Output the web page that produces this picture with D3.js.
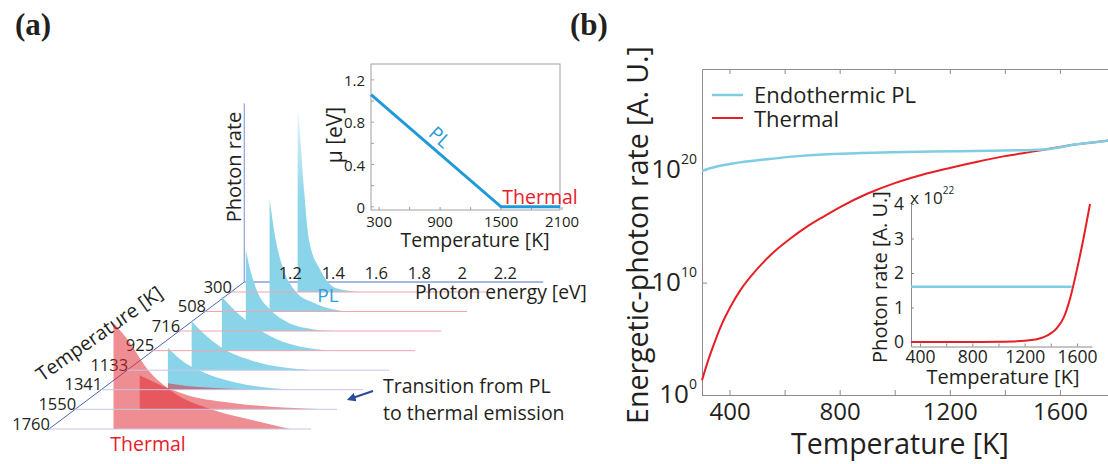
<!DOCTYPE html>
<html>
<head>
<meta charset="utf-8">
<script src="https://cdn.jsdelivr.net/npm/d3@7"></script>
<style>
  body { margin: 0; background: #fff; }
  svg { display: block; font-family: 'Open Sans', sans-serif; }
  text { fill: #231f20; }
</style>
</head>
<body>
<svg id="fig" width="1108" height="464"></svg>
<script>
// ---------- panel (a): spectra vs temperature ----------
const rowTemps = [300, 508, 716, 925, 1133, 1341, 1550, 1760]
const energyTicks = [1.2, 1.4, 1.6, 1.8, 2, 2.2]

// [photon energy (eV), photon rate (normalised)]
const pl300 = [[1.31, 1.00], [1.318, 0.90], [1.34, 0.55], [1.363, 0.28], [1.415, 0.12], [1.49, 0.02], [1.60, 0.0]]
const pl508 = [[1.30, 0.61], [1.33, 0.38], [1.367, 0.22], [1.42, 0.11], [1.50, 0.05], [1.65, 0.0]]
const pl716 = [[1.31, 0.44], [1.333, 0.32], [1.365, 0.21], [1.42, 0.12], [1.50, 0.05], [1.62, 0.01], [1.72, 0.0]]
const pl925 = [[1.32, 0.29], [1.34, 0.265], [1.40, 0.195], [1.48, 0.125], [1.60, 0.05], [1.83, 0.0]]
const pl1133 = [[1.30, 0.265], [1.345, 0.21], [1.435, 0.125], [1.585, 0.05], [1.86, 0.0]]
const pl1341 = [[1.31, 0.227], [1.37, 0.162], [1.48, 0.092], [1.63, 0.038], [1.89, 0.0]]
const th1341 = [[1.31, 0.035], [1.40, 0.02], [1.55, 0.008], [1.75, 0.0]]
const th1550 = [[1.30, 0.184], [1.368, 0.146], [1.523, 0.076], [1.75, 0.032], [2.15, 0.0]]
const th1760 = [[1.30, 0.573], [1.368, 0.48], [1.46, 0.32], [1.564, 0.21], [1.764, 0.103], [1.945, 0.049], [2.12, 0.0]]

const plByRow = { 300: pl300, 508: pl508, 716: pl716, 925: pl925, 1133: pl1133, 1341: pl1341 }
const thByRow = { 1341: th1341, 1550: th1550, 1760: th1760 }

// inset of (a): chemical potential
const muTemps = [220, 1500, 2080]
const muValues = [1.06, 0, 0]
const muXTicks = [300, 900, 1500, 2100]
const muYTicks = [0, 0.4, 0.8, 1.2]

// ---------- panel (b) ----------
const plT = [300, 350, 413, 535, 650, 777, 950, 1139, 1350, 1502, 1552, 1661, 1770, 1800]
const plExp = [19.95, 20.3, 20.6, 20.97, 21.25, 21.44, 21.57, 21.65, 21.73, 21.8, 21.86, 22.3, 22.62, 22.7]
const thT = [300, 320, 340, 370, 400, 440, 500, 560, 620, 680, 740, 800, 900, 1000, 1100, 1200, 1300, 1400, 1500, 1552, 1661, 1770, 1800]
const thExp = [1.3, 2.9, 4.3, 6.2, 7.7, 9.35, 11.2, 12.7, 13.9, 14.95, 15.85, 16.7, 17.9, 18.85, 19.6, 20.2, 20.75, 21.25, 21.65, 21.86, 22.3, 22.62, 22.7]
const bXTicks = [400, 800, 1200, 1600]
const bYExps = [0, 10, 20]

// inset of (b): linear photon rate (x 10^22)
const insT = [331, 600, 800, 1000, 1100, 1200, 1250, 1300, 1350, 1400, 1450, 1500, 1550, 1600, 1650, 1700]
const insThermal = [0, 0, 0, 0.005, 0.015, 0.035, 0.06, 0.09, 0.15, 0.25, 0.42, 0.72, 1.3, 2.1, 3.0, 4.0]
const insPlT = [331, 1560]
const insPl = [1.6, 1.6]
const insXTicks = [400, 800, 1200, 1600]
const insYTicks = [0, 1, 2, 3, 4]

const svg = d3.select('#fig')
const blue = '#1f9ad8', red = '#e61e25', cyan = '#7fcde3', axisGrey = '#8c8c8c'

function label(g, x, y, s, size) {
  return g.append('text')
    .attr('x', x).attr('y', y)
    .attr('font-size', size)
    .attr('dominant-baseline', 'central')
    .text(s)
}

svg.append('text').attr('x', 15).attr('y', 35)
  .attr('font-family', 'Liberation Serif').attr('font-weight', 'bold').attr('font-size', 31)
  .text('(a)')
svg.append('text').attr('x', 570).attr('y', 35)
  .attr('font-family', 'Liberation Serif').attr('font-weight', 'bold').attr('font-size', 31)
  .text('(b)')

// ===== panel (a) =====
let ga = svg.append('g')

let depthY = d3.scaleLinear().domain([300, 1760]).range([292, 429])
let depthX = d3.scaleLinear().domain([300, 1760]).range([231, 49])
let eX = d3.scaleLinear().domain([1, 2.2]).range([0, 258])
let rateY = d3.scaleLinear().domain([0, 1]).range([0, 185])
let T0 = depthY.invert(282)

let defs = svg.append('defs')
let grad = defs.append('linearGradient').attr('id', 'plGrad')
  .attr('gradientUnits', 'userSpaceOnUse')
  .attr('x1', 0).attr('y1', 100).attr('x2', 0).attr('y2', 225)
grad.append('stop').attr('offset', 0).attr('stop-color', '#f0f9fc')
grad.append('stop').attr('offset', 0.75).attr('stop-color', '#92d7eb')
grad.append('stop').attr('offset', 1).attr('stop-color', '#8ad4ea')

defs.append('marker').attr('id', 'arrow')
  .attr('viewBox', '0 0 10 10').attr('refX', 5).attr('refY', 5)
  .attr('markerWidth', 4).attr('markerHeight', 4).attr('orient', 'auto-start-reverse')
  .append('path').attr('d', 'M0,0L10,5L0,10z').attr('fill', '#2b4c9b')

// axes
let ox = depthX(T0), oy = depthY(T0)
ga.append('line').attr('x1', ox).attr('y1', oy).attr('x2', ox + eX(2.39)).attr('y2', oy)
  .attr('stroke', '#8da0d8').attr('stroke-width', 1.5)
ga.append('line').attr('x1', ox).attr('y1', oy).attr('x2', ox).attr('y2', oy - rateY(0.965))
  .attr('stroke', '#8da0d8').attr('stroke-width', 1.2)
ga.append('line').attr('x1', ox).attr('y1', oy).attr('x2', depthX(1770)).attr('y2', depthY(1770))
  .attr('stroke', '#4a64b8').attr('stroke-width', 1)

label(ga, 0, 0, 'Photon rate', 20)
  .attr('text-anchor', 'middle')
  .attr('transform', 'translate(233,167) rotate(-90)')
label(ga, 0, 0, 'Temperature [K]', 19.5)
  .attr('text-anchor', 'middle')
  .attr('transform', 'translate(99,333) rotate(-35)')

rowTemps.forEach(t => {
  label(ga, depthX(t) + 1, depthY(t) - 6, t, 16.5).attr('text-anchor', 'end')
})

// spectra, back to front
function spectrumArea(t) {
  return d3.area()
    .x(d => depthX(t) + eX(d[0]))
    .y0(depthY(t))
    .y1(d => depthY(t) - rateY(d[1]))
    .curve(d3.curveMonotoneX)
}

rowTemps.forEach(t => {
  if (plByRow[t]) {
    ga.append('path').attr('d', spectrumArea(t)(plByRow[t])).attr('fill', 'url(#plGrad)')
  }
  if (thByRow[t]) {
    ga.append('path').attr('d', spectrumArea(t)(thByRow[t]))
      .attr('fill', '#e0262e').attr('fill-opacity', 0.52)
  }
})

rowTemps.forEach((t, i) => {
  ga.append('line')
    .attr('x1', depthX(t)).attr('y1', depthY(t))
    .attr('x2', depthX(t) + 262).attr('y2', depthY(t))
    .attr('stroke', i < 4 ? '#f2a4ab' : '#c7c5e8').attr('stroke-width', 1)
})

energyTicks.forEach(e => {
  label(ga, ox + eX(e) + 3, 272.5, e, 16.5).attr('text-anchor', 'middle')
})
label(ga, 415, 291, 'Photon energy [eV]', 19.3)

label(ga, 328, 295, 'PL', 19).attr('text-anchor', 'middle').style('fill', '#2aa0dc')
label(ga, 148, 443, 'Thermal', 19.5).attr('text-anchor', 'middle').style('fill', '#e8202a')

label(ga, 383, 385, 'Transition from PL', 19.5)
label(ga, 383, 412, 'to thermal emission', 19.5)
ga.append('line').attr('x1', 373).attr('y1', 391).attr('x2', 351).attr('y2', 398.5)
  .attr('stroke', '#2b4c9b').attr('stroke-width', 2.2).attr('marker-end', 'url(#arrow)')

// inset (a)
let mx = d3.scaleLinear().domain([220, 2080]).range([371, 560])
let my = d3.scaleLinear().domain([-0.03, 1.35]).range([210, 64])
let gi = svg.append('g')
gi.append('rect').attr('x', 371).attr('y', 64).attr('width', 189).attr('height', 146)
  .attr('fill', '#fff').attr('stroke', '#a0a0a0')
d3.range(0, 1.3, 0.2).forEach(v => {
  gi.append('line').attr('x1', 371).attr('x2', 374).attr('y1', my(v)).attr('y2', my(v)).attr('stroke', '#a0a0a0')
})
d3.range(300, 2101, 300).forEach(v => {
  gi.append('line').attr('x1', mx(v)).attr('x2', mx(v)).attr('y1', 210).attr('y2', 207).attr('stroke', '#a0a0a0')
})
muYTicks.forEach(v => {
  label(gi, 365, my(v), v, 15).attr('text-anchor', 'end')
})
muXTicks.forEach(v => {
  label(gi, mx(v), 220.5, v, 15).attr('text-anchor', 'middle')
})
gi.append('path')
  .attr('d', d3.line().x((d, i) => mx(muTemps[i])).y(d => my(d))(muValues))
  .attr('fill', 'none').attr('stroke', blue).attr('stroke-width', 3)
label(gi, 0, 0, 'μ [eV]', 21).attr('text-anchor', 'middle')
  .attr('transform', 'translate(334,135) rotate(-90)')
label(gi, 475, 239.5, 'Temperature [K]', 19.5).attr('text-anchor', 'middle')
label(gi, 0, 0, 'PL', 19).attr('text-anchor', 'middle').style('fill', blue)
  .attr('transform', 'translate(440,137) rotate(42)')
label(gi, 540, 196, 'Thermal', 19.5).attr('text-anchor', 'middle').style('fill', '#e8202a')

// ===== panel (b) =====
let gb = svg.append('g')
let bx = d3.scaleLinear().domain([300, 1800]).range([702, 1115])
let by = d3.scaleLog().domain([1, 1e29]).range([395, 69])

let xb = gb.append('g').attr('transform', 'translate(0,395)')
  .call(d3.axisBottom(bx).tickValues(d3.range(400, 1801, 200))
    .tickFormat(d => bXTicks.includes(d) ? d : '')
    .tickSizeInner(-5).tickSizeOuter(0).tickPadding(8))
xb.selectAll('text').attr('font-size', 24).attr('font-family', 'Open Sans').style('fill', '#231f20')

let xt = gb.append('g').attr('transform', 'translate(0,69)')
  .call(d3.axisTop(bx).tickValues(d3.range(400, 1801, 200)).tickFormat('')
    .tickSizeInner(-5).tickSizeOuter(0))

let yl = gb.append('g').attr('transform', 'translate(702,0)')
  .call(d3.axisLeft(by).tickValues(bYExps.map(e => Math.pow(10, e))).tickFormat('')
    .tickSizeInner(-5).tickSizeOuter(0))

gb.selectAll('.domain, .tick line').attr('stroke', axisGrey)

bYExps.forEach(e => {
  let t = gb.append('text').attr('x', 697).attr('y', by(Math.pow(10, e)) - 2)
    .attr('text-anchor', 'end').attr('dominant-baseline', 'central')
  t.append('tspan').attr('font-size', 26).text('10')
  t.append('tspan').attr('font-size', 14).attr('dy', -10).text(e)
})

gb.append('path')
  .attr('d', d3.line().x((d, i) => bx(thT[i])).y(d => by(Math.pow(10, d))).curve(d3.curveMonotoneX)(thExp))
  .attr('fill', 'none').attr('stroke', red).attr('stroke-width', 2)
gb.append('path')
  .attr('d', d3.line().x((d, i) => bx(plT[i])).y(d => by(Math.pow(10, d))).curve(d3.curveMonotoneX)(plExp))
  .attr('fill', 'none').attr('stroke', cyan).attr('stroke-width', 2.5)

// legend
gb.append('line').attr('x1', 712).attr('x2', 743).attr('y1', 95).attr('y2', 95).attr('stroke', cyan).attr('stroke-width', 2.5)
gb.append('line').attr('x1', 712).attr('x2', 743).attr('y1', 118).attr('y2', 118).attr('stroke', red).attr('stroke-width', 2)
label(gb, 754, 94, 'Endothermic PL', 22)
label(gb, 754, 118, 'Thermal', 22)

label(gb, 0, 0, 'Energetic-photon rate [A. U.]', 28.5).attr('text-anchor', 'middle')
  .attr('transform', 'translate(637,235) rotate(-90)')
label(gb, 900, 443, 'Temperature [K]', 28.5).attr('text-anchor', 'middle')

// inset (b)
let ix = d3.scaleLinear().domain([331, 1715]).range([911, 1092])
let iy = d3.scaleLinear().domain([-0.13, 4]).range([346.5, 204])

let ixa = gb.append('g').attr('transform', 'translate(0,346.5)')
  .call(d3.axisBottom(ix).tickValues(d3.range(400, 1601, 200))
    .tickFormat(d => insXTicks.includes(d) ? d : '')
    .tickSizeInner(-3).tickSizeOuter(0).tickPadding(4))
ixa.selectAll('text').attr('font-size', 17.5).attr('font-family', 'Open Sans').style('fill', '#231f20')
let iya = gb.append('g').attr('transform', 'translate(911,0)')
  .call(d3.axisLeft(iy).tickValues(insYTicks).tickFormat(d3.format('d'))
    .tickSizeInner(-3).tickSizeOuter(0).tickPadding(7))
iya.selectAll('text').attr('font-size', 17.5).attr('font-family', 'Open Sans').style('fill', '#231f20')
ixa.selectAll('.domain, .tick line').attr('stroke', axisGrey)
iya.selectAll('.domain, .tick line').attr('stroke', axisGrey)

gb.append('path')
  .attr('d', d3.line().x((d, i) => ix(insPlT[i])).y(d => iy(d))(insPl))
  .attr('fill', 'none').attr('stroke', cyan).attr('stroke-width', 2.5)
gb.append('path')
  .attr('d', d3.line().x((d, i) => ix(insT[i])).y(d => iy(d)).curve(d3.curveMonotoneX)(insThermal))
  .attr('fill', 'none').attr('stroke', red).attr('stroke-width', 2)

let mult = gb.append('text').attr('x', 910).attr('y', 197).attr('dominant-baseline', 'central')
mult.append('tspan').attr('font-size', 17).text('x 10')
mult.append('tspan').attr('font-size', 10).attr('dy', -7).text('22')

label(gb, 0, 0, 'Photon rate [A. U.]', 20).attr('text-anchor', 'middle')
  .attr('transform', 'translate(879,277) rotate(-90)')
label(gb, 1003, 376, 'Temperature [K]', 20).attr('text-anchor', 'middle')
</script>
</body>
</html>
